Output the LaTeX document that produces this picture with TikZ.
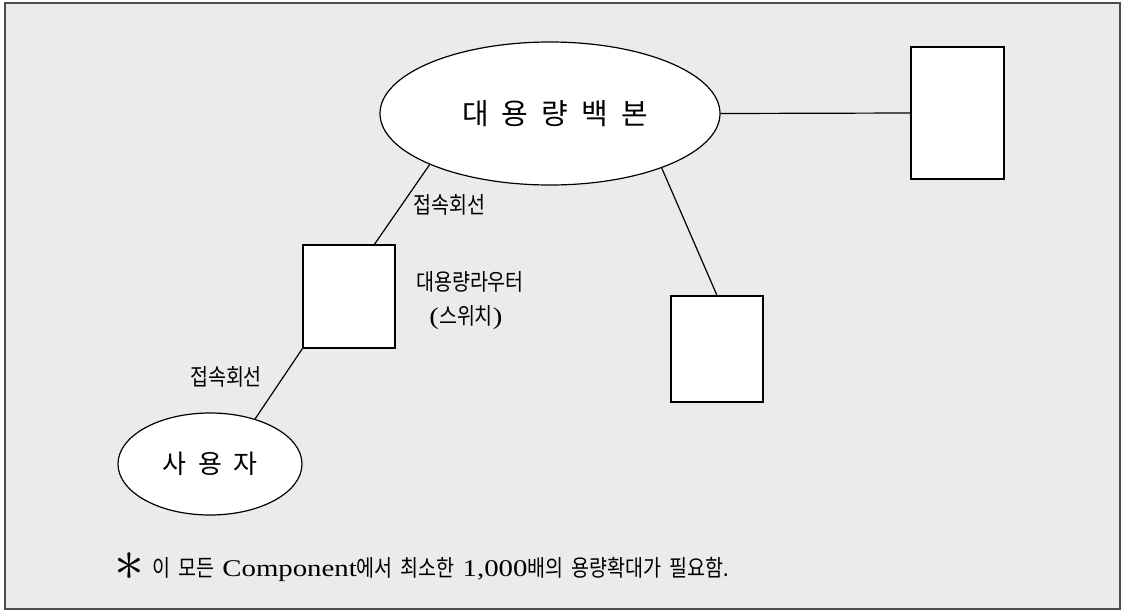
\documentclass[tikz,border=0pt]{standalone}
\usepackage{fontspec}
\usepackage{tikz}
\usetikzlibrary{shapes.geometric}
\setmainfont{Liberation Serif}[FakeStretch=1.2]
\newfontfamily\kofont{Noto Sans CJK KR}
\newfontfamily\konarrow{Noto Sans CJK KR}[FakeStretch=0.85]
\newcommand\lat[1]{{\rmfamily\fontsize{24}{28}\selectfont #1}}
\newcommand\gap[1][8pt]{\hspace{#1}}

\begin{document}
\begin{tikzpicture}
            [x=1pt,y=-1pt,line width=1.2pt,
             cloud/.style={ellipse,draw,fill=white,inner sep=0pt},
             box/.style={rectangle,draw,fill=white,inner sep=0pt,minimum width=92pt},
             tag/.style={inner sep=0pt,font=\konarrow\fontsize{23}{26}\selectfont}]
            \path[fill=white] (0,0) rectangle (1124,611);
            \draw[fill=black!8,draw=black!70,line width=1.5pt] (5,3) rectangle (1120,609);

            % nodes
            \node[cloud,minimum width=340pt,minimum height=143pt,
                  font=\kofont\fontsize{29}{34}\selectfont] (backbone) at (550,113.5)
                  {\hspace*{10pt}대\gap[13pt]용\gap[13pt]량\gap[13pt]백\gap[13pt]본};
            \node[cloud,minimum width=184pt,minimum height=102pt,
                  font=\kofont\fontsize{26}{30}\selectfont] (user) at (210,464)
                  {사\gap[11.5pt]용\gap[11.5pt]자};
            \node[box,minimum height=103pt] (router) at (349,296.5) {};
            \node[box,minimum width=93pt,minimum height=132pt] (server) at (957.5,113) {};
            \node[box,minimum height=106pt] (edge) at (717,349) {};

            % labels
            \node[tag] (linkA) at (449.5,205) {접속회선};
            \node[tag] (linkB) at (226,377) {접속회선};
            \node[tag] (routername) at (470,282) {대용량라우터};
            \node[tag] (routerkind) at (466,318) {\lat{(}스위치\lat{)}};
            \node[anchor=base west,inner sep=0pt,font=\konarrow\fontsize{23}{26}\selectfont] (note) at (114,576)
                {\raisebox{-4.4pt}{\scalebox{2.4}{$\ast$}}\gap 이\gap 모든\gap\lat{Component}에서\gap
                 최소한\gap\lat{1,000}배의\gap 용량확대가\gap 필요함.};

            % links
            \draw (backbone.203) -- (router.64);
            \draw (router.south west) -- (user.45);
            \draw (backbone.334) -- (edge.north);
            \draw (backbone.east) -- (server.west);
        \end{tikzpicture}
\end{document}
